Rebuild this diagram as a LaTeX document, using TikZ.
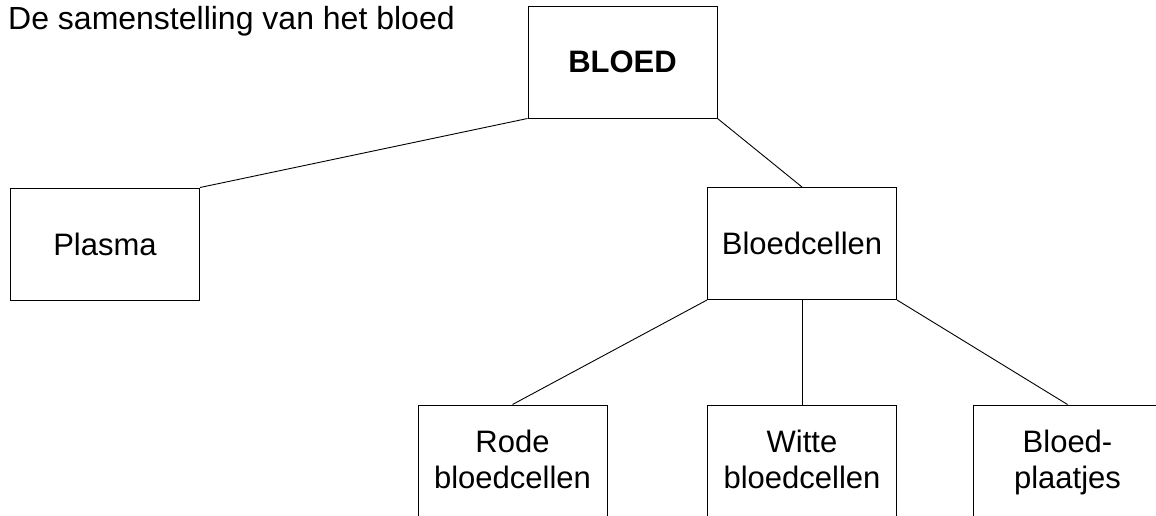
\documentclass[tikz,border=0pt]{standalone}
\usepackage{fontspec}
\setmainfont{Liberation Sans}
\begin{document}
\begin{tikzpicture}[x=1pt,y=-1pt,
  box/.style={draw=black, line width=1pt, inner sep=0pt, minimum width=189pt, minimum height=112pt, align=center, font=\fontsize{31}{36}\selectfont},
  lowbox/.style={box, minimum height=116pt},
  link/.style={draw=black, line width=0.9pt}]
\clip (0,0) rectangle (1156,515);
\node[anchor=base west, inner sep=0pt, font=\fontsize{32}{38}\selectfont] (title) at (8,29) {De samenstelling van het bloed};
\node[box, font=\fontsize{31}{38}\selectfont\bfseries] (bloed) at (622.5,62) {BLOED};
\node[box] (plasma) at (105,244) {Plasma};
\node[box] (cells) at (802,243.5) {Bloedcellen};
\node[lowbox] (rode) at (512.5,463) {\strut Rode\\\strut bloedcellen};
\node[lowbox] (witte) at (802,463) {\strut Witte\\\strut bloedcellen};
\node[lowbox] (plaat) at (1067.5,463) {\strut Bloed-\\\strut plaatjes};
\draw[link] (bloed.south west) -- (plasma.north east);
\draw[link] (bloed.south east) -- (cells.north);
\draw[link] (cells.south west) -- (rode.north);
\draw[link] (cells.south) -- (witte.north);
\draw[link] (cells.south east) -- (plaat.north);
\end{tikzpicture}
\end{document}
